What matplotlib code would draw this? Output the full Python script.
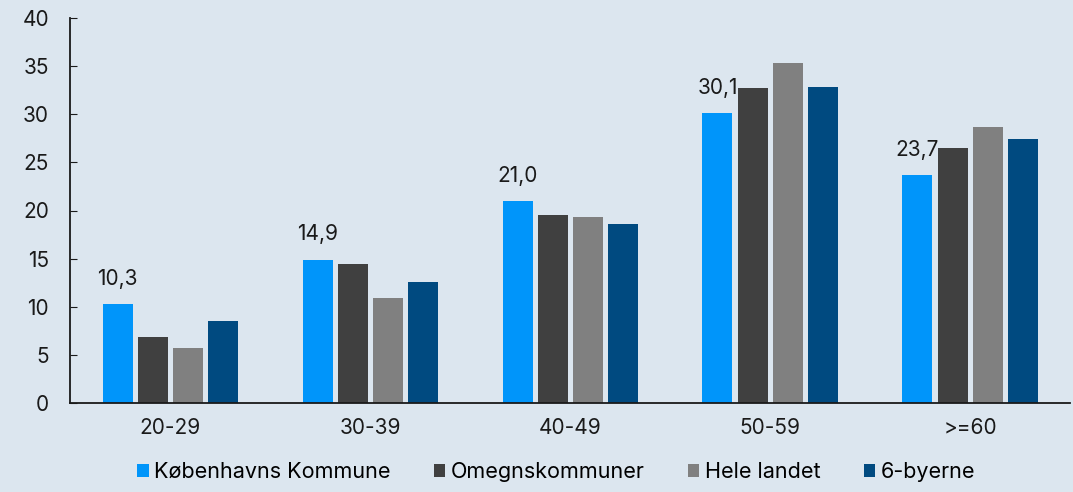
import numpy as np
import matplotlib.pyplot as plt

# data
groups = ['20-29', '30-39', '40-49', '50-59', '>=60']
series = ['Københavns Kommune', 'Omegnskommuner', 'Hele landet', '6-byerne']
kbh = [10.3, 14.9, 21.0, 30.1, 23.7]
omegn = [6.9, 14.4, 19.5, 32.7, 26.5]
hele = [5.7, 10.9, 19.3, 35.3, 28.7]
seks = [8.5, 12.6, 18.6, 32.8, 27.4]
colors = ['#0095fa', '#404040', '#808080', '#004a80']

bg = '#dce6ef'
plt.rcParams['font.family'] = ['Inter', 'DejaVu Sans']

fig = plt.figure(figsize=(10.73, 4.92), dpi=100, facecolor=bg)
ax = fig.add_axes([70 / 1073, 89 / 492, 1000 / 1073, 385 / 492], facecolor=bg)

x = np.arange(len(groups))
w = 0.15
step = 0.175
for i, (vals, name) in enumerate(zip([kbh, omegn, hele, seks], series)):
    ax.bar(x + (i - 1.5) * step, vals, width=w, color=colors[i], label=name)

# labels on first series only
for xi, v in zip(x, kbh):
    ax.annotate(('%.1f' % v).replace('.', ','), (xi - 1.5 * step, v),
                xytext=(0, 11), textcoords='offset points',
                ha='center', va='bottom', fontsize=15, color='#1a1a1a')

ax.set_xlim(-0.5, 4.5)
ax.set_ylim(0, 40)
ax.set_yticks(range(0, 41, 5))
ax.set_xticks(x)
ax.set_xticklabels(groups)
ax.tick_params(axis='y', direction='in', length=5, labelsize=15, pad=15, colors='#1a1a1a')
ax.tick_params(axis='x', length=0, labelsize=15, pad=11, colors='#1a1a1a')
for s in ['top', 'right']:
    ax.spines[s].set_visible(False)
for s in ['left', 'bottom']:
    ax.spines[s].set_color('#1a1a1a')
    ax.spines[s].set_linewidth(1.3)

ax.legend(loc='lower center', bbox_to_anchor=(0.486, -0.255), ncol=4, frameon=False,
          fontsize=15.5, handlelength=0.55, handleheight=0.55, handletextpad=0.25,
          columnspacing=2.0)

plt.savefig('out.png', dpi=100, facecolor=bg)
